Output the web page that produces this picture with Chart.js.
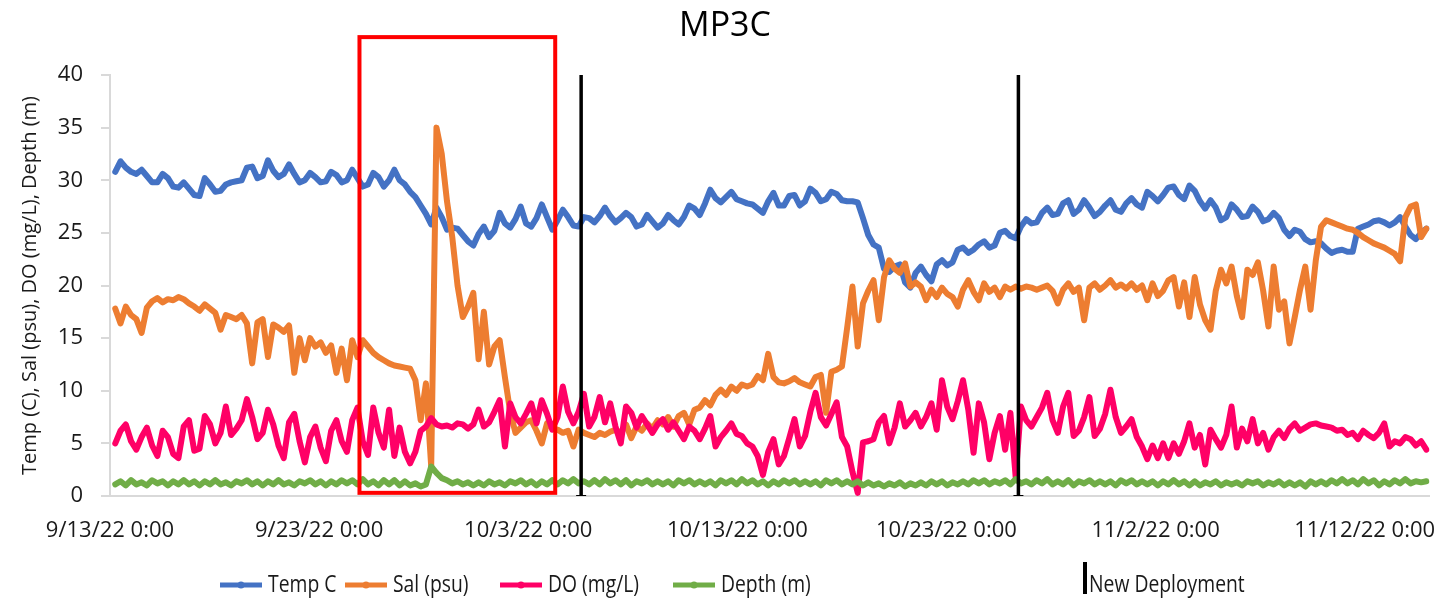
<!DOCTYPE html>
<html>
<head>
<meta charset="utf-8">
<title>MP3C</title>
<script src="https://cdn.jsdelivr.net/npm/chart.js@4.4.0/dist/chart.umd.min.js"></script>
<style>
  html, body { margin: 0; padding: 0; background: #fff; }
  #wrap { width: 1450px; height: 601px; position: relative; }
</style>
</head>
<body>
<div id="wrap"><canvas id="chart_mp3c"></canvas></div>
<script>
// x = days since 9/13/22 0:00, one reading about every 6 h
const sampleStart = 0.2518;
const sampleStep = 0.2518;

const tempC = [
  30.8, 31.8, 31.2, 30.8,  30.6, 31.0, 30.4, 29.8,
  29.8, 30.6, 30.2, 29.4,  29.3, 29.8, 29.2, 28.6,
  28.5, 30.2, 29.6, 28.9,  29.0, 29.6, 29.8, 29.9,
  30.0, 31.2, 31.3, 30.2,  30.4, 31.9, 30.9, 30.3,
  30.6, 31.5, 30.6, 29.8,  30.0, 30.7, 30.3, 29.8,
  29.9, 30.8, 30.5, 29.8,  30.0, 31.0, 30.2, 29.4,
  29.6, 30.7, 30.3, 29.4,  30.0, 31.0, 30.0, 29.6,
  28.9, 28.4, 27.6, 26.8,  25.8, 27.4, 26.5, 25.3,
  25.5, 25.4, 24.8, 24.2,  23.8, 24.9, 25.6, 24.6,
  25.2, 26.9, 25.9, 25.5,  26.3, 27.5, 25.9, 25.6,
  26.4, 27.7, 26.5, 25.3,  26.2, 27.2, 26.5, 25.7,
  25.6, 26.5, 26.4, 26.0,  26.6, 27.4, 26.6, 26.0,
  26.4, 26.9, 26.5, 25.6,  25.8, 26.7, 26.1, 25.5,
  25.9, 26.7, 26.2, 25.8,  26.5, 27.6, 27.3, 26.7,
  27.8, 29.1, 28.3, 27.9,  28.4, 28.9, 28.2, 28.0,
  27.8, 27.7, 27.3, 26.9,  28.0, 28.8, 27.6, 27.6,
  28.5, 28.6, 27.6, 28.0,  29.2, 28.8, 28.0, 28.2,
  28.9, 28.7, 28.1, 28.0,  28.0, 27.9, 26.4, 24.8,
  23.9, 23.6, 21.6, 21.3,  21.8, 22.0, 20.3, 19.8,
  21.2, 21.8, 21.0, 20.4,  22.0, 22.4, 21.9, 22.2,
  23.4, 23.6, 23.1, 23.4,  23.9, 24.2, 23.6, 23.8,
  25.0, 25.2, 24.7, 24.5,  25.6, 26.3, 25.9, 26.0,
  26.9, 27.4, 26.7, 26.8,  27.8, 28.1, 26.8, 27.2,
  28.1, 27.4, 26.6, 27.0,  27.6, 28.1, 27.2, 27.0,
  27.8, 28.3, 27.7, 27.4,  28.9, 28.5, 28.0, 28.6,
  29.3, 29.4, 28.6, 28.2,  29.5, 29.0, 28.0, 27.3,
  28.1, 27.4, 26.2, 26.5,  27.7, 27.2, 26.5, 26.6,
  27.5, 27.0, 26.1, 26.3,  26.9, 26.4, 25.3, 24.7,
  25.3, 25.1, 24.4, 24.1,  24.2, 24.0, 23.5, 23.1,
  23.3, 23.4, 23.2, 23.2,  25.4, 25.6, 25.8, 26.1,
  26.2, 26.0, 25.7, 26.0,  26.5, 25.6, 24.8, 24.4,
  25.0, 25.4
];

const salPsu = [
  17.8, 16.4, 18.0, 17.2,  16.8, 15.5, 17.9, 18.5,
  18.8, 18.4, 18.7, 18.6,  18.9, 18.7, 18.3, 18.0,
  17.6, 18.2, 17.8, 17.4,  15.8, 17.2, 17.0, 16.8,
  17.2, 16.4, 12.6, 16.5,  16.8, 13.2, 16.3, 16.0,
  15.6, 16.2, 11.7, 15.0,  12.9, 15.0, 14.2, 14.6,
  13.6, 14.3, 11.7, 14.0,  11.0, 14.8, 13.2, 14.8,
  14.2, 13.6, 13.2, 12.9,  12.6, 12.4, 12.3, 12.2,
  12.1, 11.0,  7.2, 10.7,   2.8, 35.0, 32.5, 28.0,
  24.6, 20.0, 17.0, 18.0,  19.3, 13.0, 17.5, 12.5,
  14.2, 14.8, 11.3,  8.0,   6.0,  6.5,  7.0,  7.2,
   6.2,  5.0,  6.9,  6.5,   6.3,  6.0,  6.2,  4.7,
   6.3,  6.0,  5.8,  5.6,   6.0,  5.8,  6.1,  6.3,
   6.0,  6.8,  5.5,  6.6,   6.2,  6.9,  6.4,  7.2,
   6.8,  7.5,  6.6,  7.6,   7.9,  6.8,  8.2,  8.4,
   9.1,  8.6,  9.6, 10.1,   9.6, 10.4, 10.0, 10.6,
  10.4, 10.6, 11.4, 11.0,  13.5, 11.3, 10.8, 10.7,
  10.9, 11.2, 10.8, 10.6,  10.4, 11.3, 11.5,  7.9,
  11.8, 12.0, 12.3, 16.0,  19.9, 14.2, 18.3, 19.5,
  20.5, 16.7, 20.8, 22.4,  21.6, 21.2, 22.1, 19.9,
  20.3, 19.9, 18.6, 19.6,  18.9, 19.8, 19.2, 18.9,
  18.0, 19.6, 20.5, 19.4,  18.6, 20.2, 19.4, 19.8,
  18.9, 19.9, 19.6, 19.9,  19.7, 19.9, 19.8, 19.6,
  19.8, 20.0, 19.5, 18.3,  19.6, 20.2, 19.4, 19.8,
  16.7, 19.8, 20.2, 19.6,  20.0, 20.5, 19.8, 20.1,
  19.7, 20.2, 19.6, 20.0,  18.6, 20.2, 19.0, 19.5,
  20.5, 20.8, 18.0, 20.3,  17.0, 20.8, 18.2, 16.7,
  15.8, 19.5, 21.5, 20.2,  21.8, 19.0, 17.0, 21.5,
  21.0, 22.2, 19.5, 16.1,  21.8, 17.7, 18.5, 14.5,
  17.0, 19.6, 21.8, 17.7,  22.4, 25.6, 26.2, 26.0,
  25.8, 25.6, 25.4, 25.3,  25.0, 24.6, 24.3, 24.0,
  23.8, 23.6, 23.3, 23.0,  22.3, 26.5, 27.5, 27.7,
  24.6, 25.4
];

const doMgL = [
   5.0,  6.2,  6.8,  5.2,   4.4,  5.6,  6.5,  4.8,
   3.8,  6.2,  5.6,  4.0,   3.6,  6.6,  7.2,  4.3,
   4.5,  7.6,  6.8,  5.0,   6.0,  8.5,  5.8,  6.4,
   7.2,  9.2,  7.5,  5.4,   6.0,  8.2,  6.8,  4.8,
   3.6,  7.0,  7.8,  5.2,   3.2,  5.6,  6.6,  4.6,
   3.3,  6.2,  7.2,  5.2,   4.2,  7.2,  8.4,  5.2,
   3.9,  8.4,  6.0,  4.6,   8.2,  3.8,  6.5,  4.2,
   3.1,  4.2,  6.2,  6.6,   7.4,  6.8,  6.6,  6.7,
   6.5,  6.9,  6.8,  6.4,   6.8,  8.2,  6.6,  7.0,
   8.0,  9.1,  4.7,  8.8,   7.5,  6.9,  7.8,  8.8,
   6.9,  9.1,  7.8,  6.3,   7.5, 10.4,  8.0,  6.9,
   8.0,  9.7,  6.6,  7.5,   9.4,  7.0,  8.8,  6.6,
   5.0,  8.5,  7.9,  6.5,   7.6,  6.8,  6.0,  6.8,
   7.3,  6.3,  7.0,  6.2,   5.4,  6.6,  6.2,  5.4,
   6.4,  7.6,  4.7,  5.6,   6.2,  6.9,  5.9,  5.7,
   5.0,  4.7,  3.8,  2.0,   4.2,  5.4,  3.0,  3.8,
   5.5,  7.3,  4.7,  5.7,   8.0,  9.8,  7.5,  6.7,
   7.8,  8.9,  5.6,  4.7,   2.3,  0.3,  5.1,  5.2,
   5.4,  7.0,  7.6,  5.0,   6.5,  8.8,  6.6,  7.2,
   7.9,  6.6,  7.5,  8.8,   6.3, 11.0,  8.5,  7.3,
   9.0, 11.0,  8.2,  4.1,   8.8,  7.0,  3.5,  6.0,
   7.6,  4.4,  7.9,  1.8,   8.5,  7.2,  6.6,  7.5,
   8.4,  9.8,  7.2,  6.0,   8.5,  9.8,  5.7,  6.2,
   7.5,  9.4,  5.7,  6.4,   7.8, 10.1,  7.5,  6.0,
   6.6,  7.3,  5.6,  4.7,   3.5,  4.8,  3.6,  5.0,
   3.6,  5.0,  4.0,  5.2,   6.9,  4.6,  5.8,  3.0,
   6.3,  5.4,  4.6,  5.8,   8.5,  4.6,  6.4,  5.2,
   7.3,  5.0,  6.0,  4.4,   5.6,  6.2,  5.5,  6.4,
   6.9,  6.2,  6.5,  6.8,   6.9,  6.7,  6.6,  6.5,
   6.2,  6.3,  5.8,  6.0,   5.4,  6.2,  5.8,  5.5,
   6.0,  6.9,  4.7,  5.2,   5.0,  5.6,  5.4,  4.8,
   5.2,  4.4
];

const depthM = [
  1.1, 1.4, 1.0, 1.5,  1.1, 1.3, 1.0, 1.5,
  1.2, 1.4, 1.0, 1.4,  1.1, 1.5, 1.1, 1.4,
  1.0, 1.4, 1.1, 1.5,  1.1, 1.3, 1.0, 1.4,
  1.2, 1.5, 1.1, 1.4,  1.0, 1.4, 1.1, 1.5,
  1.1, 1.3, 1.0, 1.4,  1.2, 1.5, 1.1, 1.4,
  1.0, 1.4, 1.1, 1.5,  1.2, 1.5, 1.1, 1.6,
  1.1, 1.4, 1.0, 1.5,  1.1, 1.5, 1.0, 1.4,
  1.0, 1.2, 0.9, 1.1,  2.8, 2.2, 1.7, 1.5,
  1.2, 1.4, 1.1, 1.3,  1.0, 1.3, 1.0, 1.4,
  1.1, 1.3, 1.0, 1.4,  1.2, 1.5, 1.1, 1.4,
  1.0, 1.4, 1.1, 1.5,  1.1, 1.5, 1.2, 1.6,
  1.2, 1.4, 1.1, 1.5,  1.1, 1.6, 1.2, 1.5,
  1.1, 1.5, 1.0, 1.4,  1.2, 1.5, 1.1, 1.4,
  1.1, 1.4, 1.0, 1.5,  1.2, 1.5, 1.1, 1.4,
  1.1, 1.4, 1.0, 1.5,  1.2, 1.5, 1.1, 1.6,
  1.2, 1.5, 1.1, 1.4,  1.0, 1.4, 1.1, 1.5,
  1.2, 1.5, 1.1, 1.4,  1.1, 1.4, 1.0, 1.5,
  1.2, 1.5, 1.1, 1.4,  1.1, 1.4, 1.0, 1.3,
  1.0, 1.2, 0.9, 1.2,  1.0, 1.3, 0.9, 1.2,
  1.0, 1.3, 1.0, 1.4,  1.1, 1.4, 1.0, 1.3,
  1.1, 1.4, 1.1, 1.5,  1.2, 1.5, 1.1, 1.4,
  1.2, 1.5, 1.1, 1.6,  1.2, 1.4, 1.1, 1.5,
  1.2, 1.6, 1.1, 1.4,  1.1, 1.5, 1.0, 1.4,
  1.2, 1.5, 1.1, 1.4,  1.1, 1.4, 1.0, 1.5,
  1.2, 1.5, 1.1, 1.4,  1.1, 1.4, 1.0, 1.4,
  1.1, 1.5, 1.1, 1.4,  1.0, 1.4, 1.0, 1.3,
  1.1, 1.4, 1.0, 1.3,  1.1, 1.3, 1.0, 1.4,
  1.2, 1.4, 1.0, 1.3,  1.1, 1.4, 1.0, 1.3,
  1.0, 1.3, 0.9, 1.4,  1.1, 1.4, 1.1, 1.5,
  1.2, 1.6, 1.2, 1.5,  1.1, 1.6, 1.2, 1.5,
  1.0, 1.4, 1.1, 1.5,  1.2, 1.6, 1.2, 1.4,
  1.3, 1.4
];

const tickDays = [0, 10, 20, 30, 40, 50, 60];
const tickLabels = ['9/13/22 0:00', '9/23/22 0:00', '10/3/22 0:00', '10/13/22 0:00',
                    '10/23/22 0:00', '11/2/22 0:00', '11/12/22 0:00'];

const deploymentDays = [22.53, 43.44];
// highlighted window (days, value units)
const boxDays = [11.93, 21.29];
const boxValues = [0.3, 43.6];

const seriesLabels = ['Temp C', 'Sal (psu)', 'DO (mg/L)', 'Depth (m)'];
const seriesValues = [tempC, salPsu, doMgL, depthM];
const seriesColors = ['#4472C4', '#ED7D31', '#FF0066', '#70AD47'];

const textColor = '#1a1a1a';
const axisGray = '#d9d9d9';
const baseFont = "'Open Sans', 'Noto Sans', sans-serif";

function toPoints(values) {
  return values.map((v, i) => ({ x: sampleStart + i * sampleStep, y: v }));
}

const datasets = seriesLabels.map((lbl, k) => ({
  label: lbl,
  data: toPoints(seriesValues[k]),
  borderColor: seriesColors[k],
  backgroundColor: seriesColors[k],
  borderWidth: 6,
  borderJoinStyle: 'round',
  borderCapStyle: 'round',
  pointRadius: 0,
  tension: 0,
  order: 4 - k
}));

deploymentDays.forEach(d => {
  datasets.push({
    label: 'New Deployment',
    data: [{ x: d, y: 0 }, { x: d, y: 40 }],
    borderColor: '#000',
    backgroundColor: '#000',
    borderWidth: 3.5,
    pointStyle: 'line',
    pointRadius: [5, 0],
    pointBorderWidth: 2,
    pointBorderColor: '#000',
    order: 0
  });
});

// title, highlight box and legend
const overlay = {
  id: 'overlay',
  afterDraw(chart) {
    const c = chart.ctx;
    const xs = chart.scales.x, ys = chart.scales.y;

    c.save();
    c.fillStyle = '#000';
    c.font = "34px " + baseFont;
    c.textAlign = 'center';
    c.textBaseline = 'middle';
    c.fillText('MP3C', chart.width / 2, 26);

    // red box
    const x1 = xs.getPixelForValue(boxDays[0]);
    const x2 = xs.getPixelForValue(boxDays[1]);
    const y1 = ys.getPixelForValue(boxValues[1]);
    const y2 = ys.getPixelForValue(boxValues[0]);
    c.strokeStyle = '#FF0000';
    c.lineWidth = 4;
    c.strokeRect(x1, y1, x2 - x1, y2 - y1);

    // legend
    const ly = 585;
    const lineStarts = [220, 345, 500, 673];
    c.textAlign = 'left';
    c.font = "23px " + baseFont;
    seriesLabels.forEach((lbl, k) => {
      const x0 = lineStarts[k];
      c.strokeStyle = seriesColors[k];
      c.lineWidth = 5;
      c.beginPath();
      c.moveTo(x0, ly);
      c.lineTo(x0 + 42, ly);
      c.stroke();
      c.fillStyle = seriesColors[k];
      c.beginPath();
      c.arc(x0 + 21, ly, 3.5, 0, Math.PI * 2);
      c.fill();
      c.save();
      c.translate(x0 + 48, ly);
      c.scale(0.84, 1);
      c.fillStyle = textColor;
      c.fillText(lbl, 0, 0);
      c.restore();
    });
    c.fillStyle = '#000';
    c.fillRect(1083, 562, 4, 32);
    c.save();
    c.translate(1089, ly);
    c.scale(0.84, 1);
    c.fillStyle = textColor;
    c.fillText('New Deployment', 0, 0);
    c.restore();
    c.restore();
  }
};

const ctx = document.getElementById('chart_mp3c').getContext('2d');
const myChart = new Chart(ctx, {
  type: 'line',
  data: { datasets: datasets },
  options: {
    responsive: true,
    maintainAspectRatio: false,
    animation: false,
    layout: { padding: { left: 0, right: 18, top: 75, bottom: 0 } },
    plugins: {
      legend: { display: false },
      title: { display: false },
      tooltip: { enabled: false }
    },
    scales: {
      x: {
        type: 'linear',
        min: 0,
        max: 63.1,
        afterBuildTicks: s => { s.ticks = tickDays.map(v => ({ value: v })); },
        afterFit: s => { s.height = 105; },
        ticks: {
          callback: (v, i) => tickLabels[i],
          autoSkip: false,
          maxRotation: 0,
          padding: 14,
          color: textColor,
          font: { family: baseFont, size: 22 }
        },
        grid: { display: false },
        border: { color: axisGray, width: 2 }
      },
      y: {
        min: 0,
        max: 40,
        afterFit: s => { s.width = 110; },
        ticks: {
          stepSize: 5,
          padding: 18,
          color: textColor,
          font: { family: baseFont, size: 22 }
        },
        grid: { drawOnChartArea: false, drawTicks: true, tickLength: 9, color: axisGray, lineWidth: 2 },
        border: { color: axisGray, width: 2 },
        title: {
          display: true,
          text: 'Temp (C), Sal (psu), DO (mg/L), Depth (m)',
          color: textColor,
          font: { family: baseFont, size: 20 },
          padding: { top: 18, bottom: 0 }
        }
      }
    }
  },
  plugins: [overlay]
});
</script>
</body>
</html>
